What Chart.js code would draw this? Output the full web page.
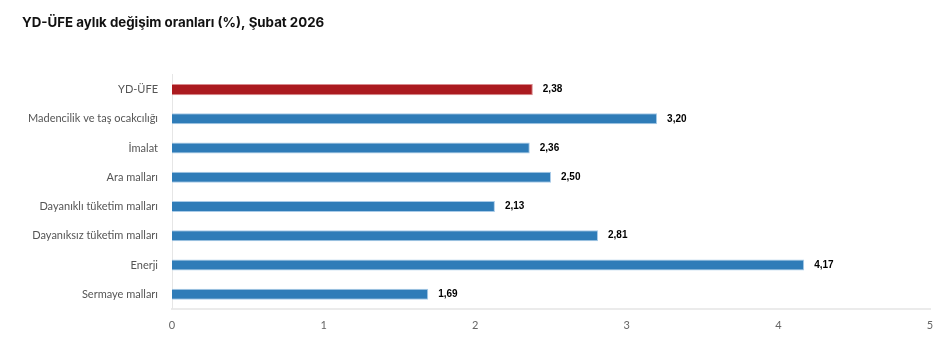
<!DOCTYPE html>
<html>
<head>
<meta charset="utf-8">
<script src="https://cdn.jsdelivr.net/npm/chart.js@4"></script>
<style>
  html, body { margin: 0; padding: 0; background: #fff; }
  #wrap { width: 952px; height: 354px; }
</style>
</head>
<body>
<div id="wrap"><canvas id="myChart"></canvas></div>
<script>
const categories = ['YD-ÜFE', 'Madencilik ve taş ocakcılığı', 'İmalat', 'Ara malları',
  'Dayanıklı tüketim malları', 'Dayanıksız tüketim malları', 'Enerji', 'Sermaye malları'];
const values = [2.38, 3.20, 2.36, 2.50, 2.13, 2.81, 4.17, 1.69];
const xTicks = [0, 1, 2, 3, 4, 5];

const barColors = categories.map((c, i) => i === 0 ? '#ab1a1f' : '#2f7cb8');
const borderColors = categories.map((c, i) => i === 0 ? '#d98a8d' : '#a9cbe8');

// write the value next to each bar
const valueLabels = {
  id: 'valueLabels',
  afterDatasetsDraw(chart) {
    const ctx = chart.ctx;
    const meta = chart.getDatasetMeta(0);
    ctx.save();
    ctx.font = 'bold 10px "Liberation Sans", Arial, sans-serif';
    ctx.fillStyle = '#000';
    ctx.textBaseline = 'middle';
    ctx.textAlign = 'left';
    meta.data.forEach((bar, i) => {
      ctx.fillText(values[i].toFixed(2).replace('.', ','), bar.x + 10, bar.y);
    });
    ctx.restore();
  }
};

new Chart(document.getElementById('myChart'), {
  type: 'bar',
  data: {
    labels: categories,
    datasets: [{
      data: values,
      backgroundColor: barColors,
      borderColor: borderColors,
      borderWidth: 1,
      categoryPercentage: 1,
      barPercentage: 0.38
    }]
  },
  plugins: [valueLabels],
  options: {
    indexAxis: 'y',
    responsive: true,
    maintainAspectRatio: false,
    animation: false,
    layout: { padding: { left: 22, right: 22, top: 15, bottom: 20 } },
    plugins: {
      legend: { display: false },
      tooltip: { enabled: false },
      title: {
        display: true,
        text: 'YD-ÜFE aylık değişim oranları (%), Şubat 2026',
        align: 'start',
        color: '#111',
        font: { family: 'Inter, "Noto Sans", sans-serif', size: 13.3, weight: 'bold' },
        padding: { top: 0, bottom: 44 }
      }
    },
    scales: {
      x: {
        min: 0,
        max: 5,
        afterBuildTicks(scale) { scale.ticks = xTicks.map(v => ({ value: v })); },
        grid: { display: false },
        border: { display: true, color: '#ebebeb', width: 2 },
        ticks: {
          color: '#666',
          padding: 2,
          font: { family: 'Lato, "Open Sans", sans-serif', size: 11 }
        }
      },
      y: {
        afterFit(scale) { scale.width = 150; },
        grid: { display: false },
        border: { display: true, color: '#e6e6e6', width: 1 },
        ticks: {
          color: '#555',
          padding: 6,
          font: { family: 'Lato, "Open Sans", sans-serif', size: 11 }
        }
      }
    }
  }
});
</script>
</body>
</html>
